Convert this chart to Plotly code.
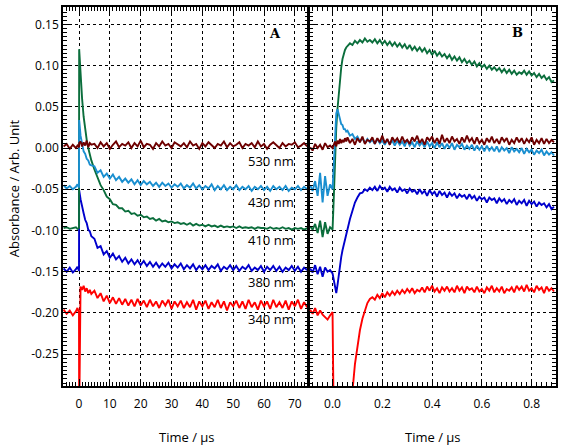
import plotly.graph_objects as go

# ---------------- Panel A : time grid (µs) ----------------
tA_pre = [-5, -4, -3, -2, -1, -0.5, 0]
tA_spike = [0.05]
tA_early = [0.5, 1, 1.5, 2, 2.5, 3, 3.5, 4]
tA_late = list(range(5, 75))
tA = tA_pre + tA_spike + tA_early + tA_late

# values in mAbs (x 1e-3)
A_530 = [2, 5, -1, 4, 0, 3, 1,
         6,
         8, 2, 7, 3, 9, 1, 6, 4,
         5, 0, 7, 2, 6, -1, 4, 8, 1, 5, 3, 7, 0, 6, 2, 9, 1, 5, 4, -1,
         6, 2, 8, 3, 5, 0, 7, 4, 2, 6, 1, 8, 3, 5, -1, 6, 2, 7, 4, 0,
         5, 3, 8, 1, 6, 2, 4, 7, 0, 5, 3, 6, 1, 8, 2, 5, -1, 4, 7, 3,
         0, 6, 2, 5, 4, 7, 1, 3, 6, 2]
A_430 = [-45, -49, -46, -50, -47, -44, -48,
         34,
         15, 4, -4, -7, -13, -15, -20, -21,
         -22, -30, -27, -35, -31, -37, -32, -39, -35, -41,
         -37, -42, -38, -44, -39, -45, -40, -44, -41, -46,
         -42, -47, -42, -46, -43, -48, -44, -47, -43, -49,
         -45, -48, -43, -49, -45, -50, -46, -49, -44, -51,
         -46, -50, -45, -51, -47, -50, -45, -51, -47, -50,
         -46, -52, -47, -50, -46, -51, -47, -52, -46, -50,
         -47, -51, -46, -52, -48, -50, -46, -51, -47, -50]
A_410 = [-97, -96, -98, -97, -96, -98, -97,
         120,
         85, 60, 38, 22, 10, 0, -8, -15,
         -26, -35, -45, -51, -59, -62, -68, -69, -73, -73,
         -77, -76, -80, -79, -82, -81, -84, -83, -86, -85,
         -88, -86, -89, -88, -90, -89, -91, -90, -92, -91,
         -93, -91, -94, -92, -94, -93, -95, -93, -95, -94,
         -96, -94, -96, -95, -96, -95, -97, -95, -97, -96,
         -97, -96, -98, -96, -97, -97, -98, -96, -98, -97,
         -98, -96, -98, -97, -99, -97, -98, -97, -99, -97]
A_380 = [-146, -150, -145, -151, -147, -144, -149,
         -51,
         -62, -73, -79, -87, -91, -99, -101, -107,
         -110, -121, -119, -129, -125, -133, -128, -135, -131, -138,
         -133, -140, -135, -141, -136, -142, -137, -143, -138, -144,
         -139, -145, -140, -144, -139, -146, -141, -145, -140, -147,
         -142, -146, -141, -148, -143, -147, -142, -148, -143, -146,
         -141, -149, -144, -147, -142, -148, -143, -149, -144, -147,
         -142, -149, -145, -148, -143, -150, -144, -148, -143, -149,
         -144, -150, -145, -148, -143, -149, -144, -150, -145, -148]
A_340 = [-196, -201, -197, -203, -198, -194, -200,
         -330,
         -168, -172, -167, -174, -170, -176, -172, -177,
         -173, -182, -176, -186, -179, -188, -181, -189, -182, -190,
         -183, -191, -184, -192, -183, -191, -185, -193, -184, -192,
         -186, -194, -185, -191, -184, -195, -186, -192, -185, -194,
         -187, -193, -184, -196, -186, -192, -185, -195, -187, -193,
         -184, -194, -186, -197, -187, -192, -185, -194, -186, -195,
         -184, -193, -187, -196, -185, -192, -186, -195, -184, -193,
         -187, -194, -185, -196, -186, -192, -184, -195, -187, -193]

# ---------------- Panel B : time grid (µs) ----------------
tB_pre = [round(-0.09 + 0.01 * i, 3) for i in range(10)]
tB_early = [round(0.005 * i, 3) for i in range(1, 12)]
tB_late = [round(0.06 + 0.01 * i, 3) for i in range(84)]
tB = tB_pre + tB_early + tB_late

B_530 = [1, -3, 5, 0, 4, -2, 6, 1, 3, 0,
         4, 8, 2, 9, 5, 11, 6, 10, 7, 12, 8,
         13, 6, 11, 4, 12, 7, 14, 5, 10, 8,
         13, 5, 12, 7, 15, 6, 11, 4, 13, 8,
         12, 6, 14, 7, 10, 5, 13, 8, 15, 6,
         11, 4, 13, 9, 14, 6, 12, 5, 16, 7,
         12, 6, 14, 8, 11, 5, 13, 7, 15, 8,
         12, 5, 13, 6, 10, 4, 12, 7, 14, 6,
         11, 5, 13, 8, 12, 4, 10, 6, 13, 7,
         12, 5, 11, 7, 13, 4, 10, 6, 12, 5,
         11, 6, 10, 7]
B_430 = [-45, -52, -40, -58, -30, -66, -34, -58, -44, -50,
         -20, 18, 42, 47, 40, 35, 29, 28, 23, 23, 20,
         21, 15, 17, 11, 14, 8, 12, 6, 11, 7,
         10, 5, 11, 6, 9, 4, 10, 5, 9, 3,
         9, 4, 8, 2, 10, 3, 7, 1, 8, 3,
         7, 1, 8, 2, 6, 0, 7, 1, 6, -1,
         5, 0, 6, -2, 4, 1, 5, -2, 3, -1,
         4, -3, 3, -2, 2, -4, 3, -3, 1, -4,
         2, -5, 1, -3, 0, -6, 1, -4, -1, -5,
         0, -7, -1, -5, -2, -8, -3, -6, -2, -9,
         -4, -8, -5, -9]
B_410 = [-95, -99, -92, -103, -88, -108, -90, -104, -96, -99,
         -60, -10, 25, 48, 68, 85, 98, 108, 115, 119, 122,
         124, 127, 125, 130, 127, 131, 128, 133, 129, 131,
         128, 132, 127, 131, 126, 130, 125, 129, 124, 128,
         123, 127, 122, 126, 120, 125, 119, 123, 118, 122,
         117, 121, 115, 119, 113, 118, 112, 116, 111, 114,
         109, 113, 107, 111, 106, 110, 104, 108, 103, 106,
         101, 105, 99, 103, 98, 101, 96, 100, 95, 98,
         94, 97, 92, 96, 91, 95, 90, 94, 89, 92,
         90, 94, 89, 93, 88, 91, 86, 90, 85, 88,
         83, 86, 80, 82]
B_380 = [-146, -151, -142, -153, -144, -156, -145, -150, -148, -152,
         -160, -170, -176, -166, -152, -141, -132, -124, -117, -111, -105,
         -98, -86, -76, -66, -60, -55, -54, -50, -52, -48,
         -51, -47, -52, -46, -50, -48, -53, -47, -51, -49,
         -54, -48, -52, -50, -55, -49, -53, -51, -56, -50,
         -55, -52, -58, -51, -56, -53, -59, -52, -57, -54,
         -60, -54, -58, -55, -61, -56, -59, -57, -62, -56,
         -61, -58, -64, -59, -62, -60, -66, -60, -63, -61,
         -67, -61, -65, -62, -68, -63, -66, -62, -69, -64,
         -67, -63, -70, -64, -68, -65, -71, -66, -69, -67,
         -72, -68, -74, -71]
B_340 = [-196, -201, -194, -203, -197, -202, -205, -208, -203, -199,
         -340, -340, -340, -340, -340, -340, -340, -340, -340, -340, -340,
         -340, -320, -295, -262, -238, -221, -207, -196, -188, -183,
         -181, -184, -178, -182, -176, -181, -175, -179, -174, -178,
         -173, -177, -172, -176, -171, -175, -170, -176, -172, -174,
         -169, -175, -168, -173, -167, -174, -170, -176, -169, -173,
         -168, -174, -170, -175, -167, -173, -169, -176, -168, -172,
         -170, -175, -168, -174, -171, -176, -169, -173, -167, -175,
         -170, -174, -168, -176, -171, -173, -169, -175, -167, -172,
         -168, -174, -166, -173, -170, -175, -167, -172, -169, -176,
         -168, -173, -170, -174]

wavelengths = ["340 nm", "380 nm", "410 nm", "430 nm", "530 nm"]
colors = ["#ff0000", "#0000cc", "#0b6e3c", "#1a8fd0", "#6e0000"]
seriesA = [A_340, A_380, A_410, A_430, A_530]
seriesB = [B_340, B_380, B_410, B_430, B_530]

yticks = [0.15, 0.10, 0.05, 0.00, -0.05, -0.10, -0.15, -0.20, -0.25]
yticktext = ["0.15", "0.10", "0.05", "0.00", "-0.05", "-0.10", "-0.15", "-0.20", "-0.25"]
xA_ticks = [0, 10, 20, 30, 40, 50, 60, 70]
xB_ticks = [0.0, 0.2, 0.4, 0.6, 0.8]
xB_text = ["0.0", "0.2", "0.4", "0.6", "0.8"]

fig = go.Figure()
for name, col, ya, yb in zip(wavelengths, colors, seriesA, seriesB):
    fig.add_trace(go.Scatter(x=tA, y=[v / 1000 for v in ya], mode="lines",
                             line=dict(color=col, width=1.9), name=name,
                             xaxis="x", yaxis="y", showlegend=False))
    fig.add_trace(go.Scatter(x=tB, y=[v / 1000 for v in yb], mode="lines",
                             line=dict(color=col, width=1.9), name=name,
                             xaxis="x2", yaxis="y2", showlegend=False))

font = dict(family="Open Sans", size=12, color="black")
common = dict(showline=True, linecolor="black", linewidth=1.5, mirror="allticks",
              ticks="inside", ticklen=7, tickwidth=1, tickcolor="black",
              showgrid=True, gridcolor="black", griddash="dot", gridwidth=1,
              zeroline=False, tickfont=font)

yr = [-0.2886, 0.1711]
fig.update_layout(
    width=564, height=445, margin=dict(l=63, r=8, t=5, b=59),
    paper_bgcolor="white", plot_bgcolor="white", font=font,
    xaxis=dict(domain=[0, 0.4975], range=[-5.19, 74.35], tickvals=xA_ticks,
               minor=dict(dtick=1, ticks="inside", ticklen=4, tickcolor="black", showgrid=False),
               ticklabelstandoff=6, anchor="y", **common),
    yaxis=dict(range=yr, tickvals=yticks, ticktext=yticktext, anchor="x",
               minor=dict(dtick=0.005, ticks="inside", ticklen=4, tickcolor="black", showgrid=False),
               **common),
    xaxis2=dict(domain=[0.4995, 1], range=[-0.0936, 0.898], tickvals=xB_ticks, ticktext=xB_text,
                minor=dict(dtick=0.02, ticks="inside", ticklen=4, tickcolor="black", showgrid=False),
                ticklabelstandoff=6, anchor="y2", **common),
    yaxis2=dict(range=yr, tickvals=yticks, showticklabels=False, anchor="x2", matches="y",
                minor=dict(dtick=0.005, ticks="inside", ticklen=4, tickcolor="black", showgrid=False),
                **common),
)

ann = []
label_pos = {"530 nm": -0.016, "430 nm": -0.0654, "410 nm": -0.111, "380 nm": -0.163, "340 nm": -0.207}
for name in wavelengths:
    ann.append(dict(x=70.45, y=label_pos[name], xref="x", yref="y", text=name, showarrow=False,
                    xanchor="right", yanchor="middle", font=dict(family="Open Sans", size=13, color="black")))
ann.append(dict(x=63.6, y=0.1385, xref="x", yref="y", text="<b>A</b>", showarrow=False,
                font=dict(family="DejaVu Serif", size=13, color="black")))
ann.append(dict(x=0.742, y=0.1405, xref="x2", yref="y2", text="<b>B</b>", showarrow=False,
                font=dict(family="DejaVu Serif", size=13, color="black")))
ann.append(dict(x=0.2515, y=-0.134, xref="paper", yref="paper", text="Time / µs", showarrow=False,
                xanchor="center", yanchor="middle", font=dict(family="Open Sans", size=13, color="black")))
ann.append(dict(x=0.7505, y=-0.134, xref="paper", yref="paper", text="Time / µs", showarrow=False,
                xanchor="center", yanchor="middle", font=dict(family="Open Sans", size=13, color="black")))
ann.append(dict(x=-0.0994, y=0.522, xref="paper", yref="paper", text="Absorbance / Arb. Unit",
                showarrow=False, textangle=-90, xanchor="center", yanchor="middle",
                font=dict(family="Open Sans", size=13, color="black")))
fig.update_layout(annotations=ann)

fig.write_html("out.html")
